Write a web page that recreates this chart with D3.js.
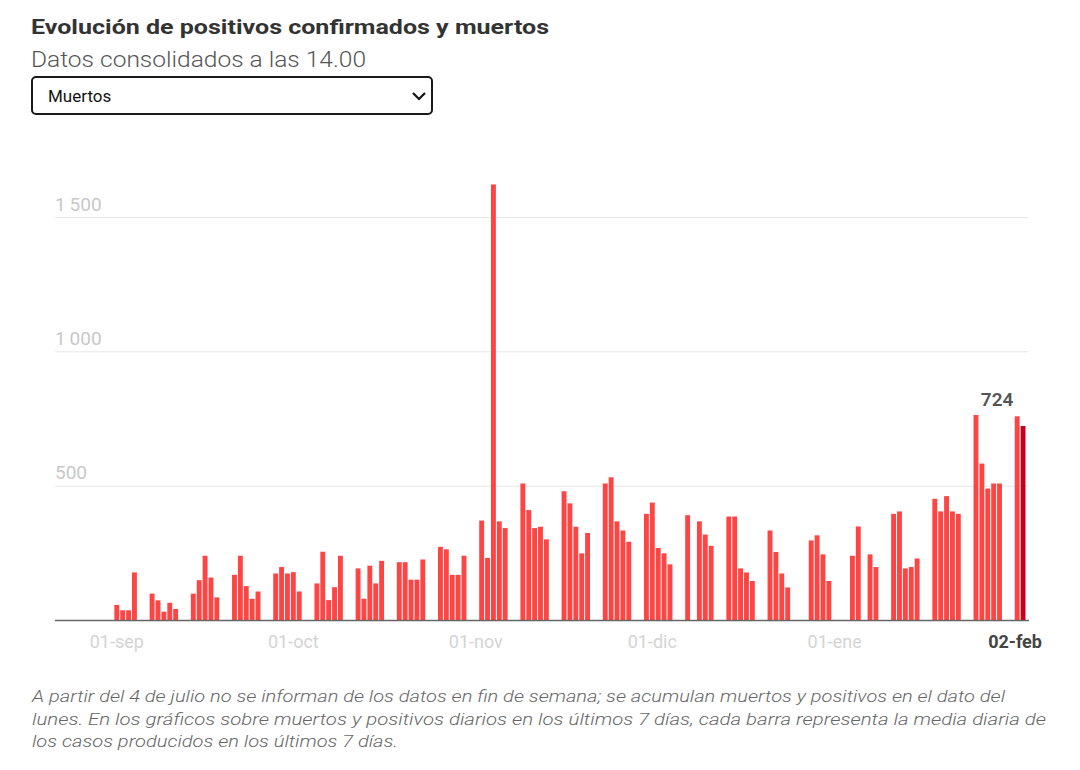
<!DOCTYPE html>
<html><head><meta charset="utf-8">
<script src="https://cdn.jsdelivr.net/npm/d3@7"></script>
<style>
body{margin:0;background:#fff;}
svg{display:block;font-family:Roboto, "Noto Sans", sans-serif;}
</style>
</head><body><svg id="c" width="1080" height="770"></svg>
<script>
// ---- data ----
const dates = [
 "2020-09-01","2020-09-02","2020-09-03","2020-09-04",
 "2020-09-07","2020-09-08","2020-09-09","2020-09-10","2020-09-11",
 "2020-09-14","2020-09-15","2020-09-16","2020-09-17","2020-09-18",
 "2020-09-21","2020-09-22","2020-09-23","2020-09-24","2020-09-25",
 "2020-09-28","2020-09-29","2020-09-30","2020-10-01","2020-10-02",
 "2020-10-05","2020-10-06","2020-10-07","2020-10-08","2020-10-09",
 "2020-10-12","2020-10-13","2020-10-14","2020-10-15","2020-10-16",
 "2020-10-19","2020-10-20","2020-10-21","2020-10-22","2020-10-23",
 "2020-10-26","2020-10-27","2020-10-28","2020-10-29","2020-10-30",
 "2020-11-02","2020-11-03","2020-11-04","2020-11-05","2020-11-06",
 "2020-11-09","2020-11-10","2020-11-11","2020-11-12","2020-11-13",
 "2020-11-16","2020-11-17","2020-11-18","2020-11-19","2020-11-20",
 "2020-11-23","2020-11-24","2020-11-25","2020-11-26","2020-11-27",
 "2020-11-30","2020-12-01","2020-12-02","2020-12-03","2020-12-04",
 "2020-12-07","2020-12-09","2020-12-10","2020-12-11",
 "2020-12-14","2020-12-15","2020-12-16","2020-12-17","2020-12-18",
 "2020-12-21","2020-12-22","2020-12-23","2020-12-24",
 "2020-12-28","2020-12-29","2020-12-30","2020-12-31",
 "2021-01-04","2021-01-05","2021-01-07","2021-01-08",
 "2021-01-11","2021-01-12","2021-01-13","2021-01-14","2021-01-15",
 "2021-01-18","2021-01-19","2021-01-20","2021-01-21","2021-01-22",
 "2021-01-25","2021-01-26","2021-01-27","2021-01-28","2021-01-29",
 "2021-02-01","2021-02-02"
];
const deaths = [
 58,38,38,179,
 100,75,33,66,43,
 100,150,241,160,86,
 170,241,128,81,108,
 175,199,175,180,108,
 138,256,76,124,241,
 194,81,204,138,222,
 217,217,152,152,227,
 274,265,170,170,241,
 372,233,1623,369,344,
 510,411,344,349,302,
 481,436,349,250,326,
 510,533,369,335,293,
 397,439,270,250,209,
 392,369,320,278,
 387,387,194,179,147,
 335,255,175,123,
 298,317,246,147,
 241,350,246,199,
 397,406,194,199,231,
 453,406,463,406,397,
 765,584,491,510,510,
 760,724
];
const yTicks = [500, 1000, 1500];
const xTickDates = ["2020-09-01","2020-10-01","2020-11-01","2020-12-01","2021-01-01"];
const xTickLabels = ["01-sep","01-oct","01-nov","01-dic","01-ene"];
const lastTickLabel = "02-feb";
const domainDates = ["2020-08-22","2021-02-03"];
const title = "Evolución de positivos confirmados y muertos";
const subtitle = "Datos consolidados a las 14.00";
const selectLabel = "Muertos";
const footnote = [
 "A partir del 4 de julio no se informan de los datos en fin de semana; se acumulan muertos y positivos en el dato del",
 "lunes. En los gráficos sobre muertos y positivos diarios en los últimos 7 días, cada barra representa la media diaria de",
 "los casos producidos en los últimos 7 días."
];

// ---- drawing ----
const parse = d3.utcParse("%Y-%m-%d");
const svg = d3.select("#c");
const x = d3.scaleUtc().domain(domainDates.map(parse)).range([55, 1026]);
const y = d3.scaleLinear().domain([0, 1500]).range([620.5, 217.5]);
const step = x(parse("2020-09-02")) - x(parse("2020-09-01"));

function fit(sel, w){ sel.each(function(){ const l=this.getComputedTextLength(); if(l>w+1||l<w-1){ d3.select(this).attr("textLength", w).attr("lengthAdjust","spacingAndGlyphs"); } }); }

// title
svg.append("text").attr("x",31).attr("y",34).attr("font-size",21).attr("font-weight",700)
  .attr("fill","#333").text(title).call(fit, 518);
svg.append("text").attr("x",31).attr("y",67).attr("font-size",22).attr("font-weight",300)
  .attr("fill","#555").text(subtitle).call(fit, 335);

// select box
svg.append("rect").attr("x",32).attr("y",77).attr("width",400).attr("height",37).attr("rx",4)
  .attr("fill","#fff").attr("stroke","#1a1a1a").attr("stroke-width",2);
svg.append("text").attr("x",48).attr("y",102).attr("font-size",17).attr("fill","#111").text(selectLabel);
svg.append("path").attr("d","M413,93 L419,99 L425,93").attr("fill","none").attr("stroke","#111").attr("stroke-width",2.2);

// gridlines + y labels
const g = svg.append("g");
g.selectAll("line.grid").data(yTicks).join("line").attr("class","grid")
  .attr("x1",55).attr("x2",1028).attr("y1",d=>y(d)).attr("y2",d=>y(d))
  .attr("stroke","#e6e6e6").attr("stroke-width",1);
const fmt = d3.formatLocale({decimal:",",thousands:"\u2009",grouping:[3],currency:["","€"]}).format(",");
g.selectAll("text.yl").data(yTicks).join("text").attr("class","yl")
  .attr("x",55).attr("y",d=>y(d)-7).attr("font-size",19).attr("fill","#c8c8c8").text(d=>fmt(d));

// bars
const data = dates.map((d,i)=>({date:parse(d), v:deaths[i], last:i===dates.length-1}));
svg.append("g").selectAll("rect").data(data).join("rect")
  .attr("x",d=>x(d.date)+0.5).attr("width",step-1)
  .attr("y",d=>y(d.v)).attr("height",d=>y(0)-y(d.v))
  .attr("fill",d=>d.last?"#c8001e":"#ff4444");

// baseline
svg.append("line").attr("x1",55).attr("x2",1029).attr("y1",y(0)).attr("y2",y(0))
  .attr("stroke","#666").attr("stroke-width",1.5);

// x ticks
svg.append("g").selectAll("text").data(xTickDates).join("text")
  .attr("x",d=>x(parse(d))+step/2).attr("y",648).attr("text-anchor","middle")
  .attr("font-size",18).attr("fill","#d4d4d4").text((d,i)=>xTickLabels[i]);
const last = data[data.length-1];
svg.append("text").attr("x",x(last.date)+step/2-8).attr("y",648).attr("text-anchor","middle")
  .attr("font-size",18).attr("font-weight",700).attr("fill","#444").text(lastTickLabel);

// last value label
svg.append("text").attr("x",x(last.date)-23).attr("y",y(last.v)-20).attr("text-anchor","middle")
  .attr("font-size",19).attr("font-weight",600).attr("fill","#555").text(d3.format("d")(last.v));

// footnote
const fw = [973, 1014, 366];
svg.append("g").selectAll("text").data(footnote).join("text")
  .attr("x",32).attr("y",(d,i)=>702+i*22.5).attr("font-size",17).attr("font-style","italic")
  .attr("font-weight",300).attr("fill","#666").text(d=>d)
  .each(function(d,i){ d3.select(this).call(fit, fw[i]); });
</script>
</body></html>
